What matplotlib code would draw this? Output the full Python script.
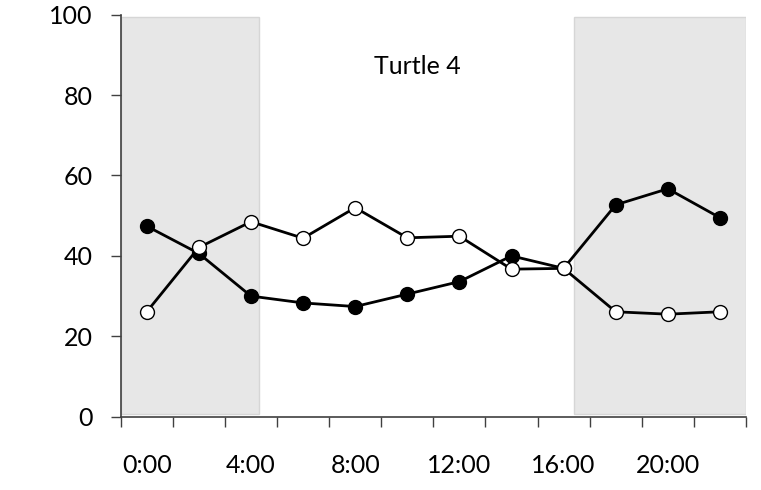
import numpy as np
import matplotlib.pyplot as plt

plt.rcParams['font.family'] = ['Lato', 'DejaVu Sans']

hours = [0, 2, 4, 6, 8, 10, 12, 14, 16, 18, 20, 22]
filled = [47.4, 40.6, 30.0, 28.3, 27.4, 30.5, 33.6, 40.0, 36.9, 52.7, 56.7, 49.5]
open_ = [26.1, 42.1, 48.5, 44.4, 52.0, 44.5, 44.9, 36.7, 36.9, 26.1, 25.5, 26.1]
tick_labels = ["0:00", "4:00", "8:00", "12:00", "16:00", "20:00"]
label_hours = [0, 4, 8, 12, 16, 20]
# dark periods (hours)
dark = [(-1, 4.29), (16.39, 23)]

fig = plt.figure(figsize=(7.61, 4.9), dpi=100)
ax = fig.add_axes([0.1586, 0.1496, 0.8217, 0.8204])

for a, b in dark:
    ax.axvspan(a, b, ymin=0.006, ymax=0.995, facecolor='#e7e7e7',
               edgecolor='#d6d6d6', linewidth=1.0, zorder=0)

ax.plot(hours, filled, color='black', lw=2, marker='o', ms=10,
        mfc='black', mec='black', mew=1, zorder=3)
ax.plot(hours, open_, color='black', lw=2, marker='o', ms=10,
        mfc='white', mec='black', mew=1, zorder=4)

ax.text(0.474, 0.87, "Turtle 4", transform=ax.transAxes, ha='center',
        va='center', fontsize=18)

ax.set_xlim(-1, 23)
ax.set_ylim(0, 100)
ax.set_yticks(np.arange(0, 101, 20))
ax.set_xticks(np.arange(-1, 24, 2))
ax.set_xticklabels([])
ax.set_xticks(label_hours, minor=True)
ax.set_xticklabels(tick_labels, minor=True)

for s in ['top', 'right']:
    ax.spines[s].set_visible(False)
for s in ['left', 'bottom']:
    ax.spines[s].set_color('#404040')
    ax.spines[s].set_linewidth(1.2)

ax.tick_params(axis='y', direction='out', length=7, width=1, color='#404040',
               pad=13, labelsize=18)
ax.tick_params(axis='x', which='major', direction='out', length=7, width=1,
               color='#404040')
ax.tick_params(axis='x', which='minor', length=0, pad=27, labelsize=18)

fig.savefig('out.png', dpi=100)
